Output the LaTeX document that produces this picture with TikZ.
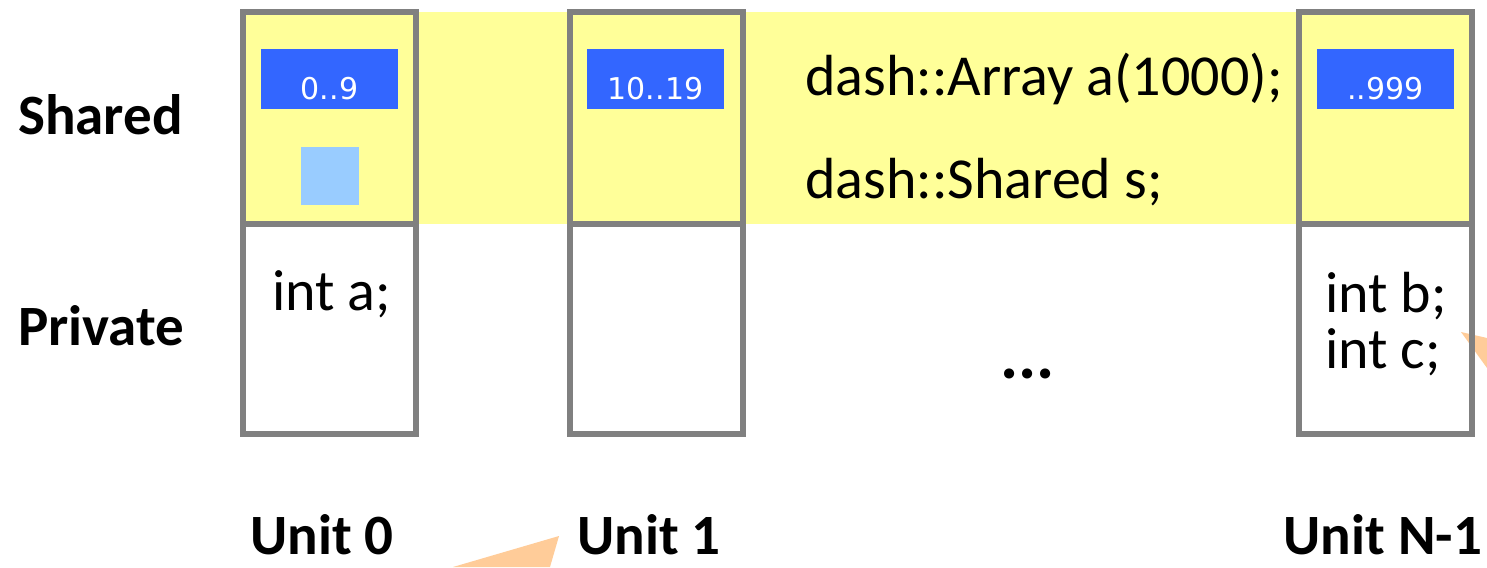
\documentclass[tikz,border=0pt]{standalone}
\usepackage{fontspec}
\setmainfont{Carlito}
\newfontfamily\numfont{DejaVu Sans}
\definecolor{sharedbg}{HTML}{FFFF99}
\definecolor{frame}{HTML}{808080}
\definecolor{block}{HTML}{3366FF}
\definecolor{lightblock}{HTML}{99CCFF}
\definecolor{callout}{HTML}{FFCC99}
\begin{document}
\begin{tikzpicture}[x=1pt,y=-1pt,
  rowlabel/.style={font=\fontsize{57}{60}\selectfont\bfseries, inner sep=0, anchor=base west},
  codetext/.style={font=\fontsize{58}{62}\selectfont, inner sep=0, anchor=base west, align=left},
  column/.style={draw=frame, line width=6pt, minimum width=173pt, minimum height=422pt, inner sep=0},
  rangebox/.style={fill=block, minimum width=137pt, minimum height=60pt, inner sep=0},
  rangetext/.style={text=white, font=\numfont\fontsize{30}{32}\selectfont, inner sep=0, anchor=base},
  localbox/.style={fill=lightblock, minimum width=58pt, minimum height=58pt, inner sep=0}]
\useasboundingbox (0,0) rectangle (1487,567);
\fill[white] (0,0) rectangle (1487,567);

% shared segment band
\coordinate (split) at (0,223.5);
\fill[sharedbg] (243,12) rectangle (1472,223.5);

% pointer wedges
\fill[callout] (453,567) -- (559,536) -- (550,567) -- cycle;
\fill[callout] (1461,332) -- (1487,338) -- (1487,368) -- cycle;

% unit columns
\node[column] (u0) at (329.5,223) {};
\node[column] (u1) at (656.5,223) {};
\node[column] (un) at (1385.5,223) {};
\foreach \u in {u0,u1,un}
  \draw[draw=frame, line width=6pt] (\u.west |- split) -- (\u.east |- split);

% distributed array blocks
\node[rangebox] (r0) at (329.5,79) {};
\node[rangebox] (r1) at (655.5,79) {};
\node[rangebox] (rn) at (1385.5,79) {};
\node[rangetext] (t0) at ([yshift=10pt]r0.south) {0..9};
\node[rangetext] (t1) at ([yshift=10pt]r1.south) {10..19};
\node[rangetext] (tn) at ([yshift=10pt]rn.south) {..999};
\node[localbox] (s0) at (330,176) {};

% row labels
\node[rowlabel] (shared) at (18,135) {Shared};
\node[rowlabel] (private) at (18,345) {Private};

% declarations
\node[codetext] (arr) at (805,96) {dash::Array a(1000);};
\node[codetext] (sh) at (805,198) {dash::Shared s;};
\node[codetext] (inta) at (272,310) {int a;};
\node[codetext] (intb) at (1325,312) {int b;};
\node[codetext] (intc) at (1325,368) {int c;};
\node[rowlabel, font=\fontsize{68}{70}\selectfont\bfseries] (dots) at (1000,378) {...};

% unit labels
\node[rowlabel] (l0) at (250,554) {Unit 0};
\node[rowlabel] (l1) at (577,554) {Unit 1};
\node[rowlabel, anchor=base east] (ln) at (1482,554) {Unit N-1};
\end{tikzpicture}
\end{document}
